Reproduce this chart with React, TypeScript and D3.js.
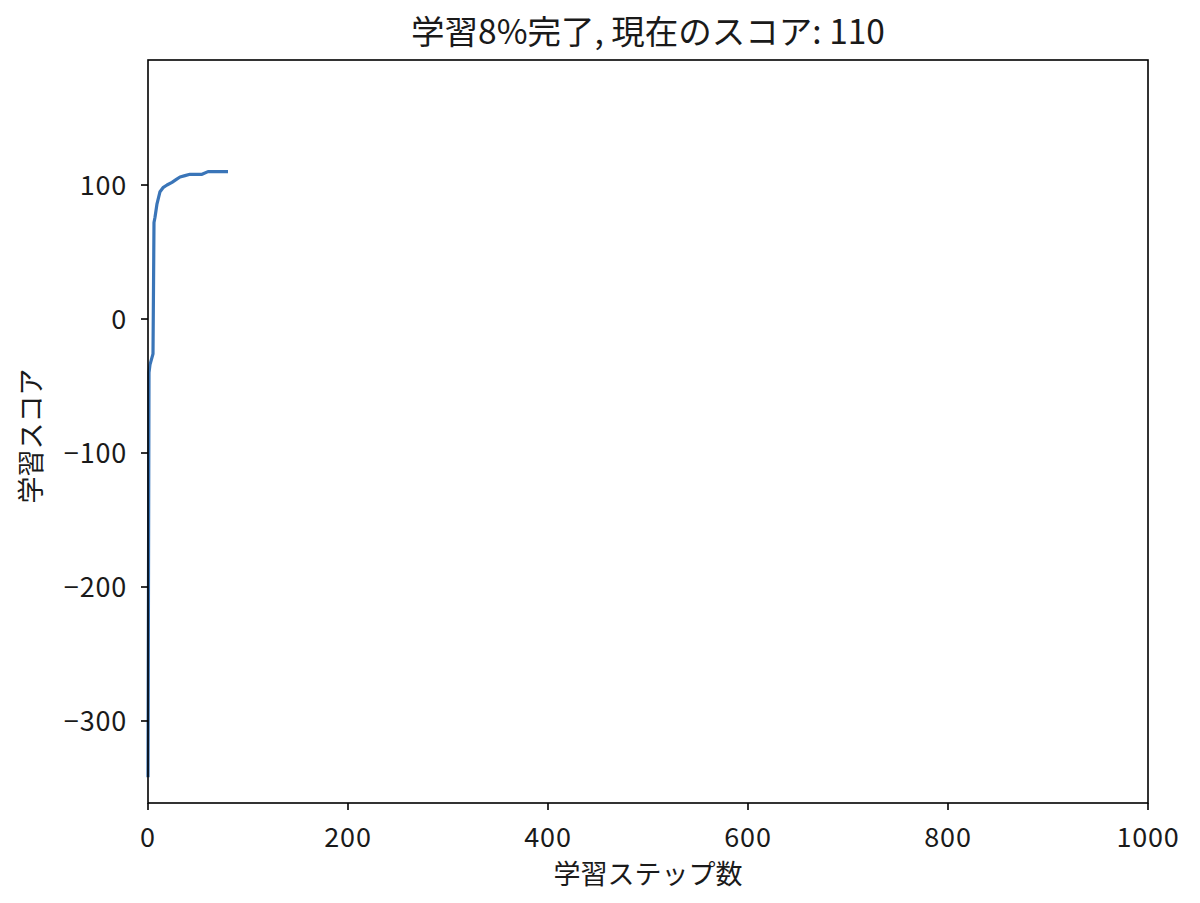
import React from "react";
import * as d3 from "d3";

const steps = [0, 1, 2, 5, 6, 7, 9, 12, 15, 19, 24, 28, 32, 37, 42, 54, 60, 80];
const scores = [-342, -40, -34, -26, 72, 76, 86, 95, 98, 100, 102, 104, 106, 107, 108, 108, 110, 110];
const xTicks = [0, 200, 400, 600, 800, 1000];
const yTicks = [-300, -200, -100, 0, 100];
const title = "学習8%完了, 現在のスコア: 110";
const xLabel = "学習ステップ数";
const yLabel = "学習スコア";

const W = 1200, H = 903;
const L = 148, R = 1148, T = 60, B = 803;
const FONT = "'Noto Sans CJK JP', 'DejaVu Sans', sans-serif";

export default function App() {
  const x = d3.scaleLinear().domain([0, 1000]).range([L, R]);
  const y = d3.scaleLinear().domain([-361.2, 193.3]).range([B, T]);
  const line = d3.line<number>().x((_, i) => x(steps[i])).y((d) => y(d));
  return (
    <svg width={W} height={H} style={{ position: "absolute", left: 0, top: 0 }} fontFamily={FONT}>
      <rect width={W} height={H} fill="#fff" />
      <path d={line(scores) || ""} fill="none" stroke="#3a75b8" strokeWidth={3.2} strokeLinejoin="round" />
      <rect x={L} y={T} width={R - L} height={B - T} fill="none" stroke="#000" strokeWidth={1.6} />
      {xTicks.map((t) => (
        <g key={t}>
          <line x1={x(t)} x2={x(t)} y1={B} y2={B + 7} stroke="#000" strokeWidth={1.6} />
          <text x={x(t)} y={B + 44} textAnchor="middle" fontSize={27} letterSpacing={0.8} fill="#1a1a1a">{t}</text>
        </g>
      ))}
      {yTicks.map((t) => (
        <g key={t}>
          <line x1={L - 7} x2={L} y1={y(t)} y2={y(t)} stroke="#000" strokeWidth={1.6} />
          <text x={L - 21} y={y(t) + 10} textAnchor="end" fontSize={27} letterSpacing={0.8} fill="#1a1a1a">{t < 0 ? "\u2212" + Math.abs(t) : t}</text>
        </g>
      ))}
      <text x={(L + R) / 2} y={44} textAnchor="middle" fontSize={33.5} fill="#1a1a1a">{title}</text>
      <text x={(L + R) / 2} y={884} textAnchor="middle" fontSize={27} fill="#1a1a1a">{xLabel}</text>
      <text transform={`translate(41,436) rotate(-90)`} textAnchor="middle" fontSize={27} fill="#1a1a1a">{yLabel}</text>
    </svg>
  );
}
